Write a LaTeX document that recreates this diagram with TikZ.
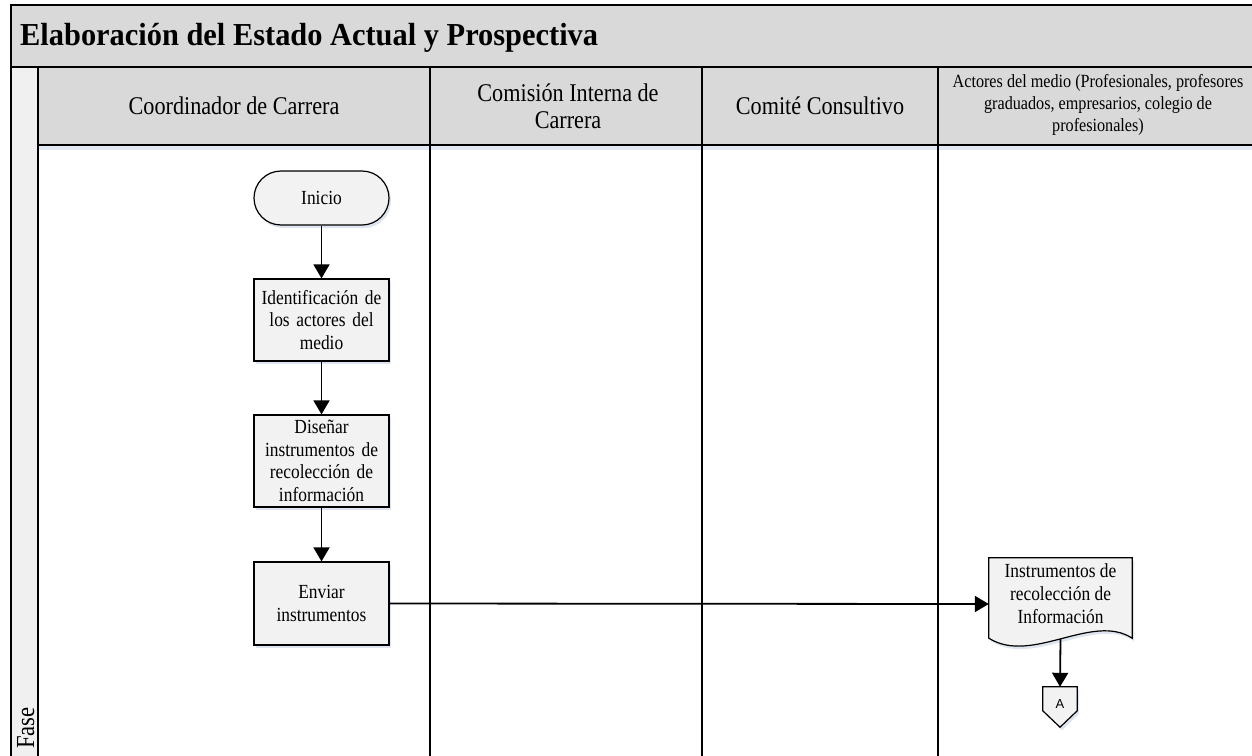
\documentclass[tikz,border=0pt]{standalone}
\usepackage{fontspec}
\setmainfont{Liberation Serif}[FakeStretch=0.87]
\newfontfamily\titlefont{Liberation Serif}[FakeStretch=0.95]
\setsansfont{Liberation Sans}
\usetikzlibrary{arrows.meta,calc,shadows}
\definecolor{barfill}{HTML}{D9D9D9}
\definecolor{boxfill}{HTML}{F2F2F2}
\definecolor{fasefill}{HTML}{F0F0F0}
\definecolor{shadecol}{HTML}{C9D5E6}
\definecolor{lineshade}{HTML}{E2E9F2}
\begin{document}
\begin{tikzpicture}[x=1pt,y=-1pt,
  laneline/.style={draw=black,line width=1.3pt},
  softshadow/.style={drop shadow={shadow xshift=2pt,shadow yshift=-3pt,opacity=0.6,fill=shadecol}},
  proc/.style={draw=black,line width=1.2pt,fill=boxfill,minimum width=135pt,
    text width=130pt,align=center,inner sep=0pt,softshadow,
    font=\fontsize{20}{22.5}\selectfont},
  term/.style={proc,rounded corners=27pt,minimum height=54pt},
  hdr/.style={align=center,font=\fontsize{25.5}{27}\selectfont},
  hdrsmall/.style={align=center,font=\fontsize{18.6}{21.7}\selectfont},
  arr/.style={line width=1.8pt,-{Triangle[length=14pt,width=16pt]}},
  outline/.style={draw=black,line width=1.2pt,fill=boxfill,softshadow}
]
\useasboundingbox (0,0) rectangle (1252,755);
\clip (0,0) rectangle (1252,755);
\fill[white] (0,0) rectangle (1252,755);

% title bar, header row and phase column
\fill[barfill] (11,5) rectangle (1265,67);
\fill[barfill] (38,67) rectangle (1265,145);
\fill[lineshade] (38,145) rectangle (1265,150);
\fill[fasefill] (11,67) rectangle (38,765);
\draw[laneline] (11,5) rectangle (1265,67);
\draw[laneline] (38,145) -- (1265,145);
\foreach \lx in {11,38,430,702,938}
  \draw[laneline] (\lx,67) -- (\lx,765);

\node[anchor=base west,inner sep=0pt,font=\titlefont\bfseries\fontsize{32}{36}\selectfont] (title) at (20,45)
  {Elaboración del Estado Actual y Prospectiva};
\node[rotate=90,anchor=base west,inner sep=0pt,font=\fontsize{26}{28}\selectfont] (fase) at (34,749) {Fase};

% lane headers
\node[hdr] (h1) at (234,106) {Coordinador de Carrera};
\node[hdr] (h2) at (568,106) {Comisión Interna de\\Carrera};
\node[hdr] (h3) at (820,106) {Comité Consultivo};
\node[hdrsmall] (h4) at (1098,105)
  {Actores del medio (Profesionales, profesores\\graduados, empresarios, colegio de\\profesionales)};

% flow
\node[term] (ini) at (321.5,198) {Inicio};
\node[proc,minimum height=82pt] (ident) at (321.5,320) {Identificación de\\los actores del\\medio};
\node[proc,minimum height=92pt] (dis) at (321.5,461) {Diseñar\\instrumentos de\\recolección de\\información};
\node[proc,minimum height=83pt] (env) at (321.5,603.5) {Enviar\\instrumentos};

% document symbol
\node[minimum width=143pt,minimum height=80pt,inner sep=0pt] (doc) at (1060.5,598) {};
\path[outline] (doc.north west) -- (doc.north east) -- (doc.south east)
  .. controls ($(doc.south east)+(-40,-26)$) and ($(doc.south west)+(43,27)$) .. (doc.south west)
  -- cycle;
\node[align=center,font=\fontsize{20}{23}\selectfont] (doctext) at (1060.5,594)
  {Instrumentos de\\recolección de\\Información};

% off-page connector
\node[minimum width=34pt,minimum height=40pt,inner sep=0pt] (conn) at (1060,707) {};
\path[outline] (conn.north west) -- (conn.north east) -- ($(conn.north east)+(0,24)$)
  -- (conn.south) -- ($(conn.north west)+(0,24)$) -- cycle;
\node[font=\sffamily\fontsize{13}{15}\selectfont] (conntext) at (1060,704) {A};

% connectors
\draw[arr] (ini.south) -- (ident.north);
\draw[arr] (ident.south) -- (dis.north);
\draw[arr] (dis.south) -- (env.north);
\draw[arr] (env.east) -- ([yshift=-6pt]doc.west);
\draw[arr] ([yshift=-1pt]doc.south) -- (conn.north);
\end{tikzpicture}
\end{document}
